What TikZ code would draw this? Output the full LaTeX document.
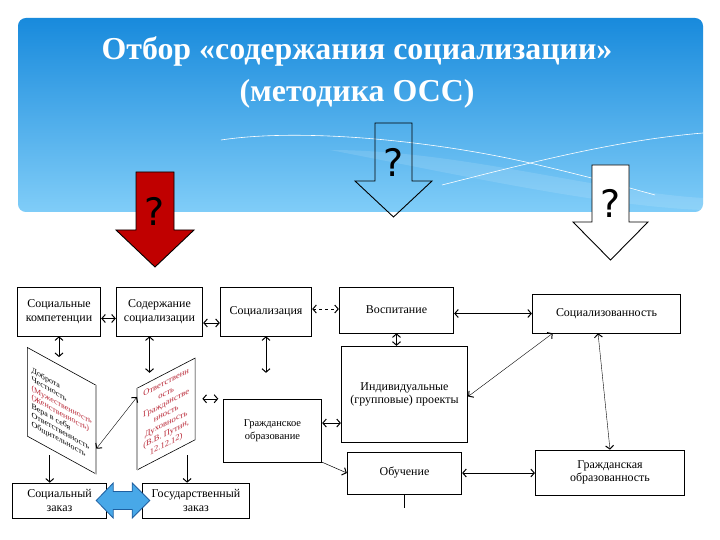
\documentclass[tikz,border=0pt]{standalone}
\usepackage{fontspec}
\setmainfont{Liberation Serif}
\newfontfamily\qfont{DejaVu Sans}
\usetikzlibrary{arrows.meta}

\definecolor{hdrtop}{RGB}{24,138,220}
\definecolor{hdrbot}{RGB}{128,205,248}
\definecolor{qred}{RGB}{192,0,0}
\definecolor{txtred}{RGB}{185,40,55}
\definecolor{blfill}{RGB}{72,168,232}
\definecolor{blline}{RGB}{30,95,160}

\tikzset{
  box/.style={draw, line width=0.7pt, fill=white, inner sep=1pt, align=center,
    font=\fontsize{12}{13.5}\selectfont},
  dbl/.style={{Straight Barb[length=3.5pt,width=8pt,line width=1pt]}-{Straight Barb[length=3.5pt,width=8pt,line width=1pt]}, line width=0.5pt},
  sgl/.style={-{Straight Barb[length=3.5pt,width=8pt,line width=1pt]}, line width=0.5pt},
  qmark/.style={font=\qfont\fontsize{38}{38}\selectfont, inner sep=0pt},
  bigarr/.style={draw=black, line width=0.9pt, line join=miter},
  ttl/.style={text=white, font=\fontsize{32}{36}\selectfont\bfseries},
}

\begin{document}
\begin{tikzpicture}[x=1bp, y=-1bp]
\useasboundingbox (0,0) rectangle (720,540);
\fill[white] (0,0) rectangle (720,540);

% header
\shade[top color=hdrtop, bottom color=hdrbot, rounded corners=8] (18,18) rectangle (703,212);
\fill[white, opacity=0.12] (330,150) .. controls (460,150) and (600,192) .. (703,198)
  -- (703,210) .. controls (600,206) and (460,175) .. cycle;
\draw[white, line width=0.6pt] (221,140) .. controls (300,128) and (430,140) .. (530,163)
  .. controls (590,177) and (630,188) .. (655,195);
\draw[white, line width=0.6pt] (442,185) .. controls (540,160) and (620,140) .. (703,133);

\node[ttl] (titl1) at (357,51) {Отбор «содержания социализации»};
\node[ttl] (titl2) at (357,94) {(методика ОСС)};

% question arrows
\draw[bigarr, fill=qred] (136,172) -- (174,172) -- (174,230) -- (194,230) -- (155,267)
  -- (116,230) -- (136,230) -- cycle;
\draw[bigarr] (375,123) -- (412,123) -- (412,181) -- (432,181) -- (393.5,217)
  -- (355,181) -- (375,181) -- cycle;
\draw[bigarr, fill=white] (592,165) -- (629,165) -- (629,222) -- (648,222) -- (610.5,260)
  -- (573,222) -- (592,222) -- cycle;
\node[qmark] (q1) at (155,211) {?};
\node[qmark] (q2) at (393.5,162) {?};
\node[qmark] (q3) at (610.5,203) {?};

% boxes
\node[box, minimum width=84, minimum height=49] (komp) at (59,311.5) {Социальные\\компетенции};
\node[box, minimum width=87, minimum height=49] (soder) at (159.5,311.5) {Содержание\\социализации};
\node[box, minimum width=92, minimum height=49] (sociz) at (266,311.5) {Социализация};
\node[box, minimum width=115, minimum height=46] (vosp) at (396.5,310) {Воспитание};
\node[box, minimum width=149, minimum height=39] (socnost) at (606.5,313.5) {Социализованность};
\node[box, minimum width=127, minimum height=97] (proekt) at (404.5,394.5) {Индивидуальные\\(групповые) проекты};
\node[box, minimum width=99, minimum height=63, font=\fontsize{10.5}{12.5}\selectfont] (grobr) at (272.5,430.5) {Гражданское\\образование};
\node[box, minimum width=115, minimum height=42] (obuch) at (404.5,473) {Обучение};
\node[box, minimum width=150, minimum height=45] (grobraz) at (610,472.5) {Гражданская\\образованность};
\node[box, minimum width=95, minimum height=35] (szakaz) at (59.5,500.5) {Социальный\\заказ};
\node[box, minimum width=108, minimum height=35] (gzakaz) at (196,500.5) {Государственный\\заказ};

% slanted sheets
\begin{scope}[shift={(27,347)}]
  \node[draw, line width=0.6pt, fill=white, yslant=-0.55, transform shape, anchor=north west,
    minimum width=69, minimum height=89, inner sep=3pt, align=left,
    font=\fontsize{8}{9}\selectfont] (lpar) at (0,0)
    {\rule{0pt}{13pt}Доброта\\Честность\\\textcolor{txtred}{(Мужественность}\\\textcolor{txtred}{(Женственность)}\\Вера в себя\\Ответственность\\Общительность};
\end{scope}
\begin{scope}[shift={(137,388)}]
  \node[draw, line width=0.6pt, fill=white, yslant=0.52, transform shape, anchor=north west,
    minimum width=58, minimum height=82, inner sep=2pt, align=center, text=txtred,
    font=\fontsize{8.5}{10.3}\selectfont] (rpar) at (0,0)
    {Ответственн\\ость\\Гражданстве\\нность\\Духовность\\(В.В. Путин,\\12.12.12)};
\end{scope}
\draw[gray!60, line width=2pt] (lpar.north east) -- (lpar.south east);
\draw[gray!60, line width=2pt] (rpar.north west) -- (rpar.south west);

% connectors
\draw[dbl] ([yshift=-7]komp.east) -- ([yshift=-7]soder.west);
\draw[dbl] ([yshift=-11.5]soder.east) -- ([yshift=-11.5]sociz.west);
\draw[dbl, dashed] ([yshift=2.5]sociz.east) -- ([yshift=2.5]sociz.east -| vosp.west);
\draw[dbl] (vosp.east |- socnost.west) -- (socnost.west);
\draw[dbl] (vosp.south) -- (vosp.south |- proekt.north);
\draw[dbl, line width=0.4pt] ([xshift=-54]socnost.south) -- ([yshift=-2]proekt.east);
\draw[dbl, line width=0.4pt] ([xshift=-8.5]socnost.south) -- (grobraz.north);
\draw[dbl] (obuch.east) -- (obuch.east -| grobraz.west);
\draw[dbl] ([yshift=7.5]grobr.east) -- ([yshift=7.5]grobr.east -| proekt.west);
\draw[sgl] (grobr.south east) -- (obuch.west);
\draw[line width=0.5pt] (obuch.south) -- ++(0,14);
\draw[dbl, shorten >=9] (komp.south) -- (komp.south |- lpar.north);
\draw[dbl] ([xshift=-10]soder.south) -- ([xshift=-10]soder.south |- rpar.north);
\draw[dbl, shorten >=26] (sociz.south) -- (sociz.south |- grobr.north);
\draw[dbl, line width=0.4pt] ([yshift=-19]lpar.east) -- ([yshift=-9]rpar.north west);
\draw[dbl] ([xshift=7]rpar.east) -- ([xshift=23]rpar.east);
\draw[sgl] ([xshift=-12]lpar.south) -- ([xshift=-12]lpar.south |- szakaz.north);
\draw[sgl] ([xshift=21]rpar.south) -- ([xshift=21]rpar.south |- gzakaz.north);

% order arrow between the two orders
\draw[draw=blline, fill=blfill, line width=0.8pt, line join=miter]
  ([xshift=-11]szakaz.east) -- ++(17,-17.5) -- ++(0,8.5) -- ++(19,0) -- ++(0,-8.5)
  -- ++(17.5,17.5) -- ++(-17.5,17.5) -- ++(0,-8.5) -- ++(-19,0) -- ++(0,8.5) -- cycle;
\end{tikzpicture}
\end{document}
